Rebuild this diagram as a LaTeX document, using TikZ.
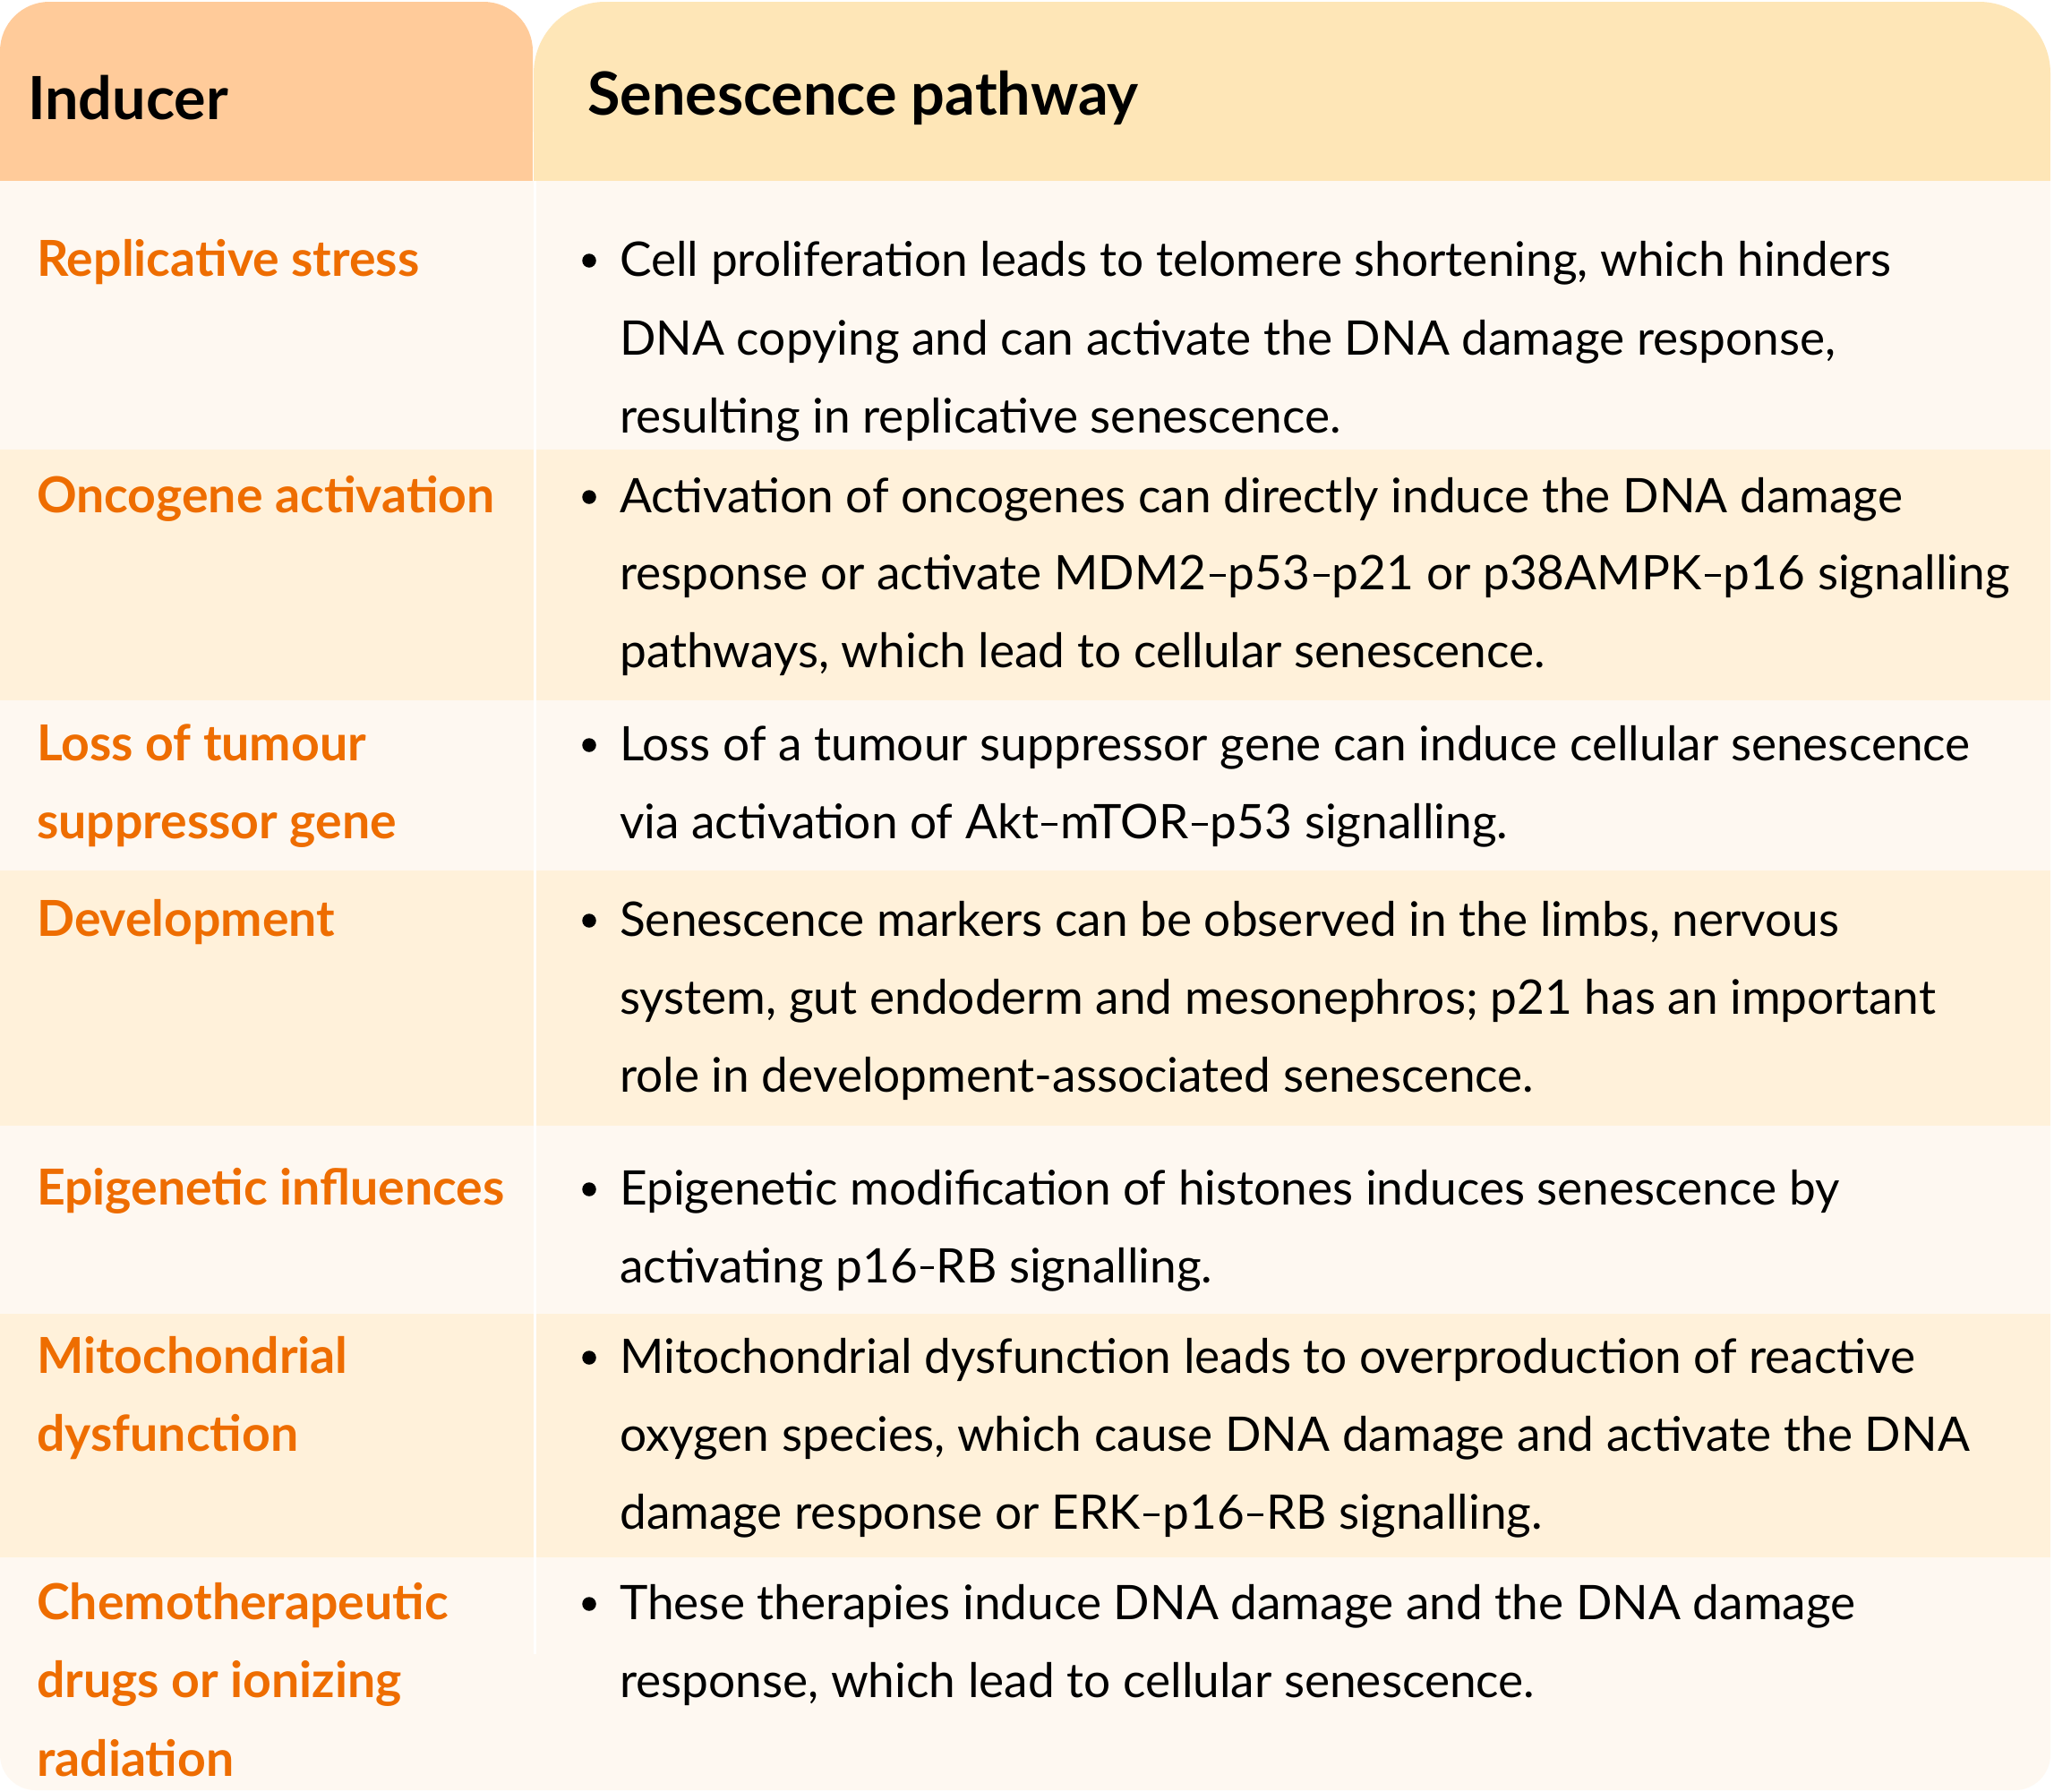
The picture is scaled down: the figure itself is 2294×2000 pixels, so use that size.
\documentclass[tikz,border=0pt]{standalone}
\usepackage{fontspec}
\setmainfont{Lato}
\definecolor{hdrL}{HTML}{FFCB9A}
\definecolor{hdrR}{HTML}{FEE6B7}
\definecolor{rowL}{HTML}{FEF8F1}
\definecolor{rowD}{HTML}{FFF1DA}
\definecolor{orng}{HTML}{EE6D00}
\newcommand\mns{\kern0.06em\rule[0.26em]{0.34em}{0.065em}\kern0.06em}
\newcommand\shd{\kern0.05em\rule[0.28em]{0.29em}{0.065em}\kern0.05em}
\begin{document}
\begin{tikzpicture}[x=1pt,y=-1pt,
  body/.style={anchor=base west, inner sep=0pt, font=\fontsize{53.2}{60}\selectfont, text=black},
  lab/.style={anchor=base west, inner sep=0pt, font=\fontsize{55.4}{60}\selectfont\bfseries, text=orng},
  hdr/.style={anchor=base west, inner sep=0pt, font=\fontsize{66.5}{70}\selectfont\bfseries, text=black},
  bul/.style={circle, fill=black, inner sep=0pt, minimum size=15.5pt}]
\useasboundingbox (0,0) rectangle (2294,2000);
\fill[white] (0,0) rectangle (2294,2000);
% headers
\fill[hdrL, rounded corners=55pt] (0,2) rectangle (595,202);
\fill[hdrL] (0,120) rectangle (595,202);
\fill[hdrR, rounded corners=80pt] (596,2) rectangle (2290,202);
\fill[hdrR] (596,120) rectangle (2290,202);
% body
\fill[rowL, rounded corners=40pt] (0,202) rectangle (2290,1999);
\fill[rowL] (0,202) rectangle (2290,400);
\fill[rowD] (0,502) rectangle (2290,782);
\fill[rowD] (0,972) rectangle (2290,1257);
\fill[rowD] (0,1467) rectangle (2290,1739);
\fill[white] (596,202) rectangle (599,1847);
% header text
\node[hdr] (h1) at (31,133) {Inducer};
\node[hdr] (h2) at (656,128) {Senescence pathway};
% row 1
\node[lab] (l1a) at (41,308) {Replicative stress};
\node[bul] (b1) at (658,291) {};
\node[body] (t1a) at (692,308) {Cell proliferation leads to telomere shortening, which hinders};
\node[body] (t1b) at (692,396) {DNA copying and can activate the DNA damage response,};
\node[body] (t1c) at (692,483) {resulting in replicative senescence.};
% row 2
\node[lab] (l2a) at (41,572) {Oncogene activation};
\node[bul] (b2) at (658,555) {};
\node[body] (t2a) at (692,572) {Activation of oncogenes can directly induce the DNA damage};
\node[body] (t2b) at (692,658) {response or activate MDM2\mns p53\mns p21 or p38AMPK\mns p16 signalling};
\node[body] (t2c) at (692,745) {pathways, which lead to cellular senescence.};
% row 3
\node[lab] (l3a) at (41,849) {Loss of tumour};
\node[lab] (l3b) at (41,936) {suppressor gene};
\node[bul] (b3) at (658,832) {};
\node[body] (t3a) at (692,849) {Loss of a tumour suppressor gene can induce cellular senescence};
\node[body] (t3b) at (692,936) {via activation of Akt\mns mTOR\mns p53 signalling.};
% row 4
\node[lab] (l4a) at (41,1045) {Development};
\node[bul] (b4) at (658,1028) {};
\node[body] (t4a) at (692,1045) {Senescence markers can be observed in the limbs, nervous};
\node[body] (t4b) at (692,1132) {system, gut endoderm and mesonephros; p21 has an important};
\node[body] (t4c) at (692,1219) {role in development-associated senescence.};
% row 5
\node[lab] (l5a) at (41,1345) {Epigenetic influences};
\node[bul] (b5) at (658,1328) {};
\node[body] (t5a) at (692,1345) {Epigenetic modification of histones induces senescence by};
\node[body] (t5b) at (692,1432) {activating p16\shd RB signalling.};
% row 6
\node[lab] (l6a) at (41,1533) {Mitochondrial};
\node[lab] (l6b) at (41,1620) {dysfunction};
\node[bul] (b6) at (658,1516) {};
\node[body] (t6a) at (692,1533) {Mitochondrial dysfunction leads to overproduction of reactive};
\node[body] (t6b) at (692,1620) {oxygen species, which cause DNA damage and activate the DNA};
\node[body] (t6c) at (692,1707) {damage response or ERK\mns p16\mns RB signalling.};
% row 7
\node[lab] (l7a) at (41,1808) {Chemotherapeutic};
\node[lab] (l7b) at (41,1895) {drugs or ionizing};
\node[lab] (l7c) at (41,1983) {radiation};
\node[bul] (b7) at (658,1791) {};
\node[body] (t7a) at (692,1808) {These therapies induce DNA damage and the DNA damage};
\node[body] (t7b) at (692,1895) {response, which lead to cellular senescence.};
\end{tikzpicture}
\end{document}
